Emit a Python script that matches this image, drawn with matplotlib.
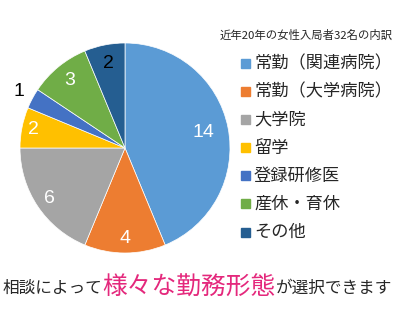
import matplotlib
matplotlib.use("Agg")
import matplotlib.pyplot as plt
import numpy as np

plt.rcParams['font.family'] = ['Noto Sans CJK JP', 'DejaVu Sans']

categories = ["常勤（関連病院）", "常勤（大学病院）", "大学院", "留学", "登録研修医", "産休・育休", "その他"]
values = [14, 4, 6, 2, 1, 3, 2]
colors = ["#5B9BD5", "#ED7D31", "#A5A5A5", "#FFC000", "#4472C4", "#70AD47", "#255E91"]
label_colors = ["white", "white", "white", "white", "black", "white", "black"]
label_dist = [0.76, 0.86, 0.87, 0.89, 1.14, 0.83, 0.82]
title = "近年20年の女性入局者32名の内訳"
caption = [("相談によって", "#262626", 12.0), ("様々な勤務形態", "#E4287C", 17.8), ("が選択できます", "#262626", 12.0)]

fig = plt.figure(figsize=(4, 3.2), dpi=100)
ax = fig.add_axes([20/400, 67/320, 210/400, 210/320])
wedges, _ = ax.pie(values, colors=colors, startangle=90, counterclock=False,
                   wedgeprops=dict(linewidth=0.5, edgecolor="white"))
ax.set_xlim(-1, 1); ax.set_ylim(-1, 1); ax.set_aspect('equal')
for w, v, c, d in zip(wedges, values, label_colors, label_dist):
    ang = np.deg2rad((w.theta1 + w.theta2) / 2)
    ax.text(d*np.cos(ang), d*np.sin(ang), str(v), color=c, fontsize=14,
            ha='center', va='center', family=['Liberation Sans'])

fig.text(306/400, 1 - 35/320, title, fontsize=8.2, ha='center', va='center', color='#262626')
for i, (cat, col) in enumerate(zip(categories, colors)):
    y = 1 - (63 + i*28.2)/320
    fig.patches.append(plt.Rectangle((241/400, y - 4.5/320), 9/400, 9/320, color=col,
                                     transform=fig.transFigure, figure=fig))
    fig.text(254/400, y, cat, fontsize=12.4, ha='left', va='center', color='#262626')

# caption: place pieces sequentially
fig.canvas.draw()
r = fig.canvas.get_renderer()
x = 3
for txt, col, fs in caption:
    t = fig.text(x/400, 1 - 288/320, txt, fontsize=fs, color=col, ha='left', va='center')
    bb = t.get_window_extent(renderer=r)
    x += bb.width

fig.savefig("out.png", dpi=100)
